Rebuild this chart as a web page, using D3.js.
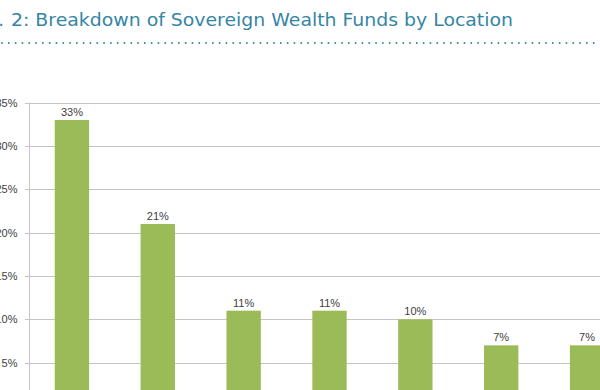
<!DOCTYPE html>
<html>
<head>
<meta charset="utf-8">
<script src="https://cdn.jsdelivr.net/npm/d3@7"></script>
<style>
  body { margin: 0; background: #fff; }
  svg { display: block; }
</style>
</head>
<body>
<script>
let width = 600
let height = 390

// values (category names sit below the crop)
const categories = ['Middle East', 'Asia', 'Europe', 'North America', 'Oceania', 'Africa', 'Latin America']
const shares = [33, 21, 11, 11, 10, 7, 7]
const yTicks = [5, 10, 15, 20, 25, 30, 35]

const titleLead = 'Fig.'
const titleMain = '2: Breakdown of Sovereign Wealth Funds by Location'

let svg = d3.select('body')
  .append('svg')
  .attr('width', width)
  .attr('height', height)

// title, cut off on the left like the source
svg.append('text')
  .attr('x', 4)
  .attr('y', 26)
  .attr('text-anchor', 'end')
  .attr('font-family', 'DejaVu Sans')
  .attr('font-size', 18)
  .attr('fill', '#3585a6')
  .text(titleLead)

svg.append('text')
  .attr('x', 11)
  .attr('y', 26)
  .attr('font-family', 'DejaVu Sans')
  .attr('font-size', 18)
  .attr('fill', '#3585a6')
  .attr('textLength', 502)
  .attr('lengthAdjust', 'spacingAndGlyphs')
  .text(titleMain)

// dotted rule
svg.append('line')
  .attr('x1', 2).attr('x2', width)
  .attr('y1', 43).attr('y2', 43)
  .attr('stroke', '#3585a6')
  .attr('stroke-width', 1.8)
  .attr('stroke-linecap', 'round')
  .attr('stroke-dasharray', '0.1,6.7')

let axisX = 29
let y = d3.scaleLinear()
  .domain([0, 35])
  .range([406, 102.7])

let x = d3.scaleBand()
  .domain(categories)
  .range([axisX, 630])
  .paddingInner(0.6)
  .paddingOuter(0.3)

// gridlines
svg.append('g')
  .selectAll('line')
  .data(yTicks)
  .enter()
  .append('line')
  .attr('x1', axisX - 4)
  .attr('x2', width)
  .attr('y1', d => Math.round(y(d)) + 0.5)
  .attr('y2', d => Math.round(y(d)) + 0.5)
  .attr('stroke', '#c4c4c4')
  .attr('stroke-width', 1)

let yAxis = svg.append('g')
  .attr('transform', `translate(${axisX + 0.5},0)`)
  .call(d3.axisLeft(y)
    .tickValues(yTicks)
    .tickSize(0)
    .tickPadding(12)
    .tickFormat(d => d + '%'))

yAxis.select('.domain')
  .attr('stroke', '#c4c4c4')
  .attr('d', `M0,${y(35)}V${height}`)
yAxis.selectAll('text')
  .attr('font-family', 'Liberation Sans')
  .attr('font-size', 11)
  .attr('fill', '#404040')

// bars
svg.append('g')
  .selectAll('rect')
  .data(shares)
  .enter()
  .append('rect')
  .attr('x', (d, i) => x(categories[i]))
  .attr('y', d => y(d))
  .attr('width', x.bandwidth())
  .attr('height', d => y(0) - y(d))
  .attr('fill', '#9bbb59')

// value labels
svg.append('g')
  .selectAll('text')
  .data(shares)
  .enter()
  .append('text')
  .attr('x', (d, i) => x(categories[i]) + x.bandwidth() / 2)
  .attr('y', d => y(d) - 4)
  .attr('text-anchor', 'middle')
  .attr('font-family', 'Liberation Sans')
  .attr('font-size', 11)
  .attr('fill', '#404040')
  .text(d => d + '%')

// category labels fall below the visible crop
svg.append('g')
  .selectAll('text')
  .data(categories)
  .enter()
  .append('text')
  .attr('x', d => x(d) + x.bandwidth() / 2)
  .attr('y', y(0) + 16)
  .attr('text-anchor', 'middle')
  .attr('font-family', 'Liberation Sans')
  .attr('font-size', 11)
  .attr('fill', '#404040')
  .text(d => d)
</script>
</body>
</html>
